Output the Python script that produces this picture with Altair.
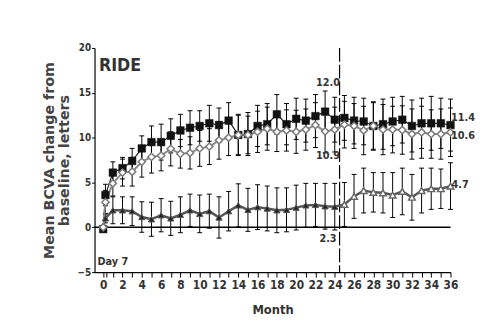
import altair as alt
import pandas as pd

# x positions: baseline, Day 7, then months 1..36
months = [0, 0.23, 1, 2, 3, 4, 5, 6, 7, 8, 9, 10, 11, 12, 13, 14, 15, 16, 17, 18,
          19, 20, 21, 22, 23, 24, 25, 26, 27, 28, 29, 30, 31, 32, 33, 34, 35, 36]

# ranibizumab 0.3 mg (filled squares)
sq = [-0.2, 3.6, 6.1, 6.6, 7.4, 8.8, 9.5, 9.5, 10.2, 10.8, 11.1, 11.3,
      11.6, 11.4, 11.9, 10.3, 10.4, 11.3, 11.5, 12.6, 11.5, 12.1,
      11.9, 12.4, 12.9, 12.0, 12.2, 11.9, 11.8, 11.3, 11.5, 11.8,
      12.0, 11.3, 11.6, 11.6, 11.6, 11.4]
sq_err = [0, 1.2, 1.2, 1.2, 1.4, 1.4, 1.8, 2.0, 1.9, 1.8, 1.9, 1.7,
          2.0, 1.9, 2.0, 2.3, 2.4, 2.3, 2.3, 2.2, 2.3, 2.3,
          2.4, 2.4, 2.3, 2.5, 2.5, 2.6, 2.6, 2.7, 2.8, 2.7,
          2.6, 2.9, 2.8, 3.0, 2.8, 2.9]

# ranibizumab 0.5 mg (open diamonds)
dm = [0.0, 2.8, 4.9, 6.1, 6.2, 7.3, 7.85, 8.0, 8.75, 8.2, 8.3, 8.8,
      9.0, 9.7, 10.0, 10.3, 10.3, 10.65, 11.0, 10.65, 10.8, 10.65,
      10.9, 11.4, 10.7, 10.9, 11.45, 11.3, 10.8, 11.3, 10.9, 10.9,
      10.85, 10.4, 10.6, 10.4, 10.4, 10.6]
dm_err = [0, 1.3, 1.4, 1.5, 1.6, 1.7, 1.8, 1.7, 1.9, 1.6, 1.8, 2.0,
          2.0, 2.1, 2.0, 2.2, 2.1, 2.3, 2.4, 2.2, 2.3, 2.4,
          2.3, 2.5, 2.4, 2.5, 2.6, 2.5, 2.7, 2.6, 2.8, 2.6,
          2.7, 2.8, 2.9, 2.7, 2.8, 2.7]

# sham / sham crossover (triangles)
tr = [0.0, 1.0, 1.9, 1.9, 1.8, 1.15, 0.9, 1.35, 1.0, 1.4, 1.9, 1.5,
      1.8, 1.1, 1.8, 2.45, 1.95, 2.25, 2.1, 1.9, 1.95, 2.2,
      2.45, 2.5, 2.35, 2.3, 2.55, 3.45, 4.1, 3.9, 3.85, 3.6,
      4.0, 3.35, 4.1, 4.3, 4.3, 4.6]
tr_err = [0, 0.5, 1.5, 1.5, 1.6, 1.7, 1.9, 1.85, 1.9, 2.0, 1.8, 2.1,
          1.9, 2.3, 2.2, 2.4, 2.4, 2.5, 2.5, 2.5, 2.45, 2.5,
          2.45, 2.4, 2.55, 2.6, 2.45, 2.45, 2.5, 2.2, 2.25, 2.5,
          2.6, 2.55, 2.5, 2.3, 2.2, 2.6]

lab_text = ["12.0", "10.9", "2.3", "11.4", "10.6", "4.7"]
lab_x = [23.3, 23.3, 23.3, 37.3, 37.3, 37.0]
lab_y = [16.1, 7.9, -1.3, 12.2, 10.2, 4.7]

ytick_vals = [-5, 0, 5, 10, 15, 20]
xtick_vals = [0, 0.3, 1, 2, 3, 4, 5, 6, 7, 8, 9, 10, 11, 12, 13, 14, 15, 16, 17, 18,
              19, 20, 21, 22, 23, 24, 25, 26, 27, 28, 29, 30, 31, 32, 33, 34, 35, 36]

rows = []
for name, vals, errs in (("sq", sq, sq_err), ("dm", dm, dm_err), ("tr", tr, tr_err)):
    for m, v, e in zip(months, vals, errs):
        rows.append({"s": name, "x": m, "y": v, "lo": v - e, "hi": v + e,
                     "open": 1 if (name == "tr" and m > 24) else 0})
df = pd.DataFrame(rows)
labels = pd.DataFrame({"x": lab_x, "y": lab_y, "t": lab_text})
zero_line = pd.DataFrame({"y": [0]})
switch_line = pd.DataFrame({"x": [24.5]})

FONT = "'DejaVu Sans Condensed', 'Liberation Sans', sans-serif"
TXT = "#333333"

xs = alt.Scale(domain=[-0.9, 36], nice=False, zero=False)
ys = alt.Scale(domain=[-5, 20], nice=False)

xaxis = alt.Axis(values=xtick_vals,
                 labelExpr="(datum.value == floor(datum.value) && datum.value % 2 == 0) ? format(datum.value, 'd') : ''",
                 labelFont=FONT, labelFontSize=12, labelFontWeight="bold", labelColor=TXT,
                 tickSize=5, tickColor="black", domainColor="black", domainWidth=1.2,
                 grid=False, labelPadding=3, labelFlush=False, labelOverlap=False,
                 title="Month", titleFont=FONT, titleFontSize=13, titleFontWeight="bold",
                 titleColor=TXT, titlePadding=13)
yaxis = alt.Axis(values=ytick_vals, labelFont=FONT, labelFontSize=10, labelFontWeight="bold",
                 labelColor=TXT, tickSize=3, tickColor="black", domainColor="black",
                 domainWidth=1.2, grid=False, labelPadding=1,
                 title=["Mean BCVA change from", "baseline, letters"],
                 titleFont="'DejaVu Sans', sans-serif", titleFontSize=14.5, titleFontWeight="bold",
                 titleColor="#444444", titlePadding=6, titleLineHeight=15)

base = alt.Chart(df)
X = alt.X("x:Q", scale=xs, axis=xaxis)
Y = alt.Y("y:Q", scale=ys, axis=yaxis)
YLO = alt.Y("lo:Q", scale=ys, axis=yaxis)
YHI = alt.Y("hi:Q", scale=ys, axis=yaxis)


def sel(name):
    return alt.datum.s == name


cap = "M -1 0 L 1 0"
layers = []
layers.append(alt.Chart(zero_line).mark_rule(color="black", strokeWidth=1.5).encode(y=Y))
layers.append(alt.Chart(switch_line).mark_rule(color="black", strokeWidth=1.2, strokeDash=[14, 3]).encode(x=X))

for name in ("tr", "dm", "sq"):
    b = base.transform_filter(sel(name)).transform_filter(alt.datum.hi > alt.datum.lo)
    layers.append(b.mark_rule(color="black", strokeWidth=1).encode(x=X, y=YLO, y2="hi:Q"))
    layers.append(b.mark_point(shape=cap, size=25, stroke="black", strokeWidth=1, filled=False, opacity=1)
                  .encode(x=X, y=YLO))
    layers.append(b.mark_point(shape=cap, size=25, stroke="black", strokeWidth=1, filled=False, opacity=1)
                  .encode(x=X, y=YHI))

# lines
layers.append(base.transform_filter(sel("tr")).mark_line(color="#555555", strokeWidth=2.5).encode(x=X, y=Y))
layers.append(base.transform_filter(sel("sq")).mark_line(color="#222222", strokeWidth=1.2).encode(x=X, y=Y))
layers.append(base.transform_filter(sel("dm")).mark_line(color="#8a8a8a", strokeWidth=2).encode(x=X, y=Y))

# points
layers.append(base.transform_filter(sel("tr")).transform_filter(alt.datum.open == 0)
              .mark_point(shape="triangle-up", filled=True, fill="#222222", stroke="#555555",
                          strokeWidth=1, size=40, opacity=1).encode(x=X, y=Y))
layers.append(base.transform_filter(sel("tr")).transform_filter(alt.datum.open == 1)
              .mark_point(shape="triangle-up", filled=True, fill="white", stroke="#666666",
                          strokeWidth=1.5, size=45, opacity=1).encode(x=X, y=Y))
layers.append(base.transform_filter(sel("sq"))
              .mark_point(shape="square", filled=True, fill="#111111", stroke="#111111",
                          strokeWidth=0.5, size=60, opacity=1).encode(x=X, y=Y))
layers.append(base.transform_filter(sel("dm"))
              .mark_point(shape="diamond", filled=True, fill="white", stroke="#7a7a7a",
                          strokeWidth=1.5, size=55, opacity=1).encode(x=X, y=Y))

# value labels
layers.append(alt.Chart(labels).mark_text(font=FONT, fontSize=11, fontWeight="bold", color=TXT)
              .encode(x=X, y=Y, text="t:N"))

# panel texts
ride = pd.DataFrame({"x": [-0.45], "y": [17.4], "t": ["RIDE"]})
day7 = pd.DataFrame({"x": [-0.6], "y": [-3.9], "t": ["Day 7"]})
layers.append(alt.Chart(ride).mark_text(font=FONT, fontSize=18, fontWeight="bold", color=TXT,
                                        align="left", baseline="alphabetic")
              .encode(x=X, y=Y, text="t:N"))
layers.append(alt.Chart(day7).mark_text(font=FONT, fontSize=11, fontWeight="bold", color=TXT,
                                        align="left", baseline="middle")
              .encode(x=X, y=Y, text="t:N"))

chart = alt.layer(*layers).properties(
    width=362, height=228,
    autosize=alt.AutoSizeParams(type="none"),
    padding={"left": 88, "top": 38, "right": 31, "bottom": 45},
    background="white",
).configure_view(stroke=None)

chart.save("out.html", embed_options={"renderer": "svg", "actions": False})
